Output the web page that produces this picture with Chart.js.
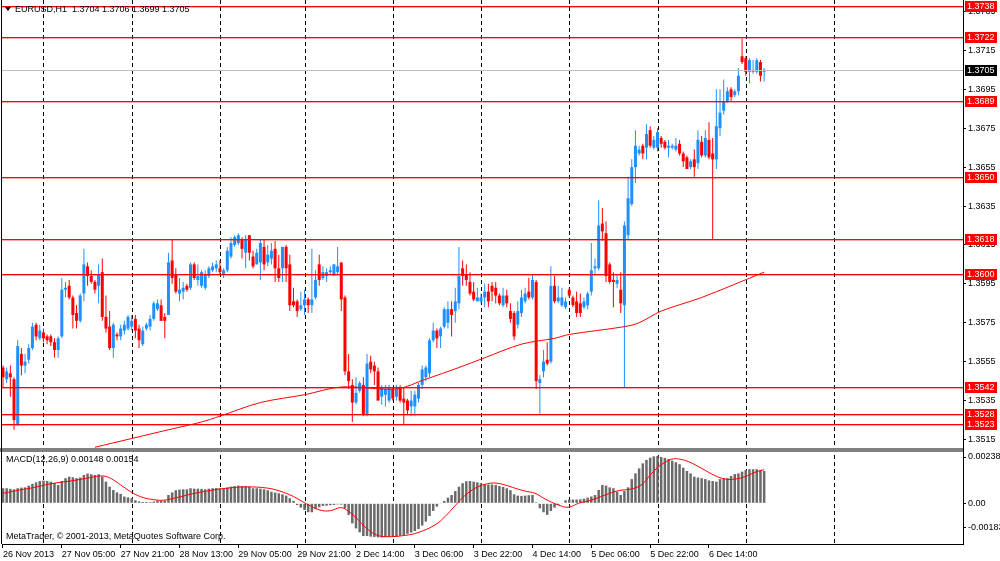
<!DOCTYPE html>
<html>
<head>
<meta charset="utf-8">
<title>EURUSD,H1</title>
<script src="https://cdn.jsdelivr.net/npm/chart.js@4.4.1/dist/chart.umd.min.js"></script>
<style>
  html, body { margin: 0; padding: 0; background: #fff; }
  #wrap { width: 1000px; height: 561px; }
</style>
</head>
<body>
<div id="wrap"><canvas id="chart" width="1000" height="561"></canvas></div>
<script>
// EURUSD H1 candles, one entry per bar (bar 0 = 26 Nov 2013 13:00)
const opens = [
  1.3552,1.3546,1.3549,1.3546,1.3523,1.3559,1.3553,1.3556,1.3562,1.3574,
  1.3567,1.3570,1.3568,1.3568,1.3565,1.3561,1.3568,1.3592,1.3594,1.3588,
  1.3580,1.3576,1.3590,1.3604,1.3599,1.3596,1.3594,1.3601,1.3578,1.3573,
  1.3562,1.3569,1.3568,1.3571,1.3572,1.3573,1.3577,1.3572,1.3564,1.3572,
  1.3573,1.3577,1.3582,1.3584,1.3578,1.3579,1.3607,1.3600,1.3590,1.3591,
  1.3594,1.3593,1.3605,1.3597,1.3594,1.3593,1.3599,1.3602,1.3603,1.3603,
  1.3600,1.3602,1.3609,1.3615,1.3616,1.3618,1.3611,1.3620,1.3609,1.3605,
  1.3606,1.3614,1.3606,1.3608,1.3613,1.3603,1.3603,1.3614,1.3605,1.3586,
  1.3586,1.3582,1.3584,1.3587,1.3584,1.3588,1.3605,1.3598,1.3599,1.3601,
  1.3600,1.3601,1.3606,1.3588,1.3550,1.3543,1.3534,1.3540,1.3543,1.3528,
  1.3555,1.3553,1.3550,1.3537,1.3538,1.3535,1.3541,1.3537,1.3542,1.3536,
  1.3535,1.3532,1.3532,1.3536,1.3543,1.3547,1.3549,1.3566,1.3571,1.3568,
  1.3573,1.3575,1.3582,1.3581,1.3585,1.3603,1.3600,1.3596,1.3591,1.3586,
  1.3586,1.3588,1.3591,1.3594,1.3593,1.3589,1.3584,1.3589,1.3581,1.3580,
  1.3574,1.3580,1.3586,1.3591,1.3588,1.3596,1.3544,1.3550,1.3556,1.3555,
  1.3594,1.3586,1.3584,1.3583,1.3592,1.3588,1.3586,1.3585,1.3583,1.3584,
  1.3591,1.3603,1.3603,1.3626,1.3621,1.3605,1.3597,1.3595,1.3592,1.3584,
  1.3620,1.3636,1.3655,1.3662,1.3666,1.3665,1.3674,1.3665,1.3665,1.3670,
  1.3668,1.3665,1.3665,1.3664,1.3667,1.3662,1.3660,1.3655,1.3659,1.3657,
  1.3668,1.3661,1.3669,1.3662,1.3659,1.3675,1.3684,1.3689,1.3695,1.3692,
  1.3694,1.3712,1.3711,1.3704,1.3704,1.3704,1.3709,1.3704
];
const highs = [
  1.3553,1.3552,1.3553,1.3547,1.3566,1.3562,1.3559,1.3564,1.3575,1.3575,
  1.3574,1.3572,1.3569,1.3569,1.3567,1.3568,1.3598,1.3596,1.3597,1.3589,
  1.3584,1.3590,1.3613,1.3606,1.3602,1.3597,1.3605,1.3608,1.3589,1.3581,
  1.3575,1.3570,1.3574,1.3576,1.3579,1.3579,1.3579,1.3574,1.3573,1.3575,
  1.3579,1.3586,1.3587,1.3587,1.3580,1.3611,1.3618,1.3603,1.3598,1.3596,
  1.3595,1.3606,1.3606,1.3605,1.3602,1.3602,1.3604,1.3606,1.3607,1.3607,
  1.3603,1.3614,1.3619,1.3620,1.3621,1.3619,1.3620,1.3620,1.3612,1.3613,
  1.3618,1.3618,1.3615,1.3616,1.3617,1.3610,1.3614,1.3615,1.3610,1.3593,
  1.3587,1.3591,1.3592,1.3588,1.3613,1.3602,1.3610,1.3604,1.3603,1.3604,
  1.3605,1.3614,1.3606,1.3589,1.3559,1.3546,1.3547,1.3545,1.3547,1.3559,
  1.3558,1.3555,1.3552,1.3543,1.3543,1.3543,1.3542,1.3543,1.3543,1.3542,
  1.3536,1.3540,1.3540,1.3544,1.3553,1.3553,1.3567,1.3575,1.3572,1.3573,
  1.3583,1.3586,1.3586,1.3593,1.3614,1.3607,1.3605,1.3601,1.3596,1.3593,
  1.3590,1.3595,1.3595,1.3596,1.3596,1.3590,1.3593,1.3592,1.3585,1.3581,
  1.3586,1.3592,1.3593,1.3598,1.3600,1.3597,1.3548,1.3561,1.3565,1.3604,
  1.3599,1.3594,1.3593,1.3588,1.3593,1.3589,1.3591,1.3590,1.3588,1.3591,
  1.3616,1.3608,1.3638,1.3634,1.3627,1.3606,1.3601,1.3600,1.3601,1.3627,
  1.3650,1.3659,1.3674,1.3666,1.3667,1.3677,1.3676,1.3671,1.3675,1.3671,
  1.3669,1.3669,1.3667,1.3670,1.3669,1.3663,1.3661,1.3659,1.3664,1.3674,
  1.3671,1.3674,1.3678,1.3670,1.3695,1.3695,1.3700,1.3696,1.3696,1.3695,
  1.3706,1.3721,1.3712,1.3711,1.3710,1.3711,1.3710,1.3706
];
const lows = [
  1.3542,1.3544,1.3537,1.3520,1.3522,1.3548,1.3549,1.3554,1.3561,1.3566,
  1.3566,1.3565,1.3564,1.3563,1.3557,1.3557,1.3567,1.3588,1.3587,1.3572,
  1.3572,1.3575,1.3586,1.3594,1.3595,1.3590,1.3585,1.3576,1.3570,1.3561,
  1.3557,1.3566,1.3566,1.3569,1.3571,1.3571,1.3567,1.3562,1.3563,1.3571,
  1.3571,1.3576,1.3581,1.3576,1.3567,1.3579,1.3595,1.3590,1.3586,1.3587,
  1.3591,1.3592,1.3597,1.3594,1.3593,1.3592,1.3598,1.3601,1.3601,1.3600,
  1.3598,1.3601,1.3608,1.3614,1.3615,1.3608,1.3603,1.3607,1.3603,1.3605,
  1.3597,1.3602,1.3604,1.3605,1.3596,1.3596,1.3596,1.3596,1.3581,1.3583,
  1.3578,1.3581,1.3579,1.3580,1.3580,1.3587,1.3594,1.3597,1.3596,1.3600,
  1.3599,1.3600,1.3581,1.3548,1.3541,1.3524,1.3533,1.3539,1.3527,1.3527,
  1.3549,1.3543,1.3535,1.3533,1.3532,1.3534,1.3535,1.3535,1.3534,1.3523,
  1.3528,1.3527,1.3527,1.3534,1.3541,1.3545,1.3547,1.3565,1.3562,1.3562,
  1.3572,1.3572,1.3568,1.3575,1.3582,1.3594,1.3594,1.3589,1.3586,1.3586,
  1.3585,1.3583,1.3583,1.3586,1.3585,1.3584,1.3583,1.3583,1.3575,1.3566,
  1.3572,1.3578,1.3585,1.3587,1.3587,1.3541,1.3528,1.3547,1.3553,1.3554,
  1.3585,1.3585,1.3583,1.3582,1.3588,1.3583,1.3578,1.3578,1.3582,1.3582,
  1.3589,1.3599,1.3602,1.3617,1.3596,1.3595,1.3583,1.3593,1.3580,1.3542,
  1.3618,1.3635,1.3647,1.3661,1.3659,1.3659,1.3665,1.3664,1.3663,1.3665,
  1.3664,1.3660,1.3664,1.3663,1.3661,1.3655,1.3654,1.3654,1.3650,1.3654,
  1.3660,1.3660,1.3659,1.3618,1.3654,1.3671,1.3682,1.3688,1.3689,1.3691,
  1.3692,1.3708,1.3702,1.3698,1.3703,1.3703,1.3699,1.3699
];
const closes = [
  1.3547,1.3550,1.3547,1.3525,1.3563,1.3553,1.3555,1.3562,1.3573,1.3568,
  1.3571,1.3567,1.3566,1.3565,1.3561,1.3567,1.3592,1.3593,1.3588,1.3579,
  1.3576,1.3589,1.3605,1.3599,1.3596,1.3592,1.3600,1.3578,1.3572,1.3562,
  1.3574,1.3568,1.3572,1.3574,1.3578,1.3576,1.3571,1.3566,1.3571,1.3574,
  1.3577,1.3585,1.3585,1.3576,1.3576,1.3606,1.3598,1.3591,1.3592,1.3593,
  1.3592,1.3605,1.3598,1.3599,1.3601,1.3600,1.3603,1.3604,1.3605,1.3601,
  1.3602,1.3612,1.3616,1.3619,1.3620,1.3613,1.3618,1.3611,1.3604,1.3611,
  1.3616,1.3605,1.3610,1.3612,1.3603,1.3598,1.3614,1.3603,1.3584,1.3584,
  1.3581,1.3584,1.3587,1.3584,1.3587,1.3597,1.3597,1.3601,1.3601,1.3602,
  1.3605,1.3604,1.3587,1.3550,1.3545,1.3534,1.3539,1.3544,1.3528,1.3554,
  1.3551,1.3550,1.3535,1.3542,1.3541,1.3542,1.3536,1.3541,1.3535,1.3534,
  1.3530,1.3535,1.3538,1.3543,1.3551,1.3552,1.3566,1.3571,1.3567,1.3572,
  1.3582,1.3582,1.3579,1.3586,1.3599,1.3599,1.3597,1.3590,1.3587,1.3588,
  1.3588,1.3591,1.3586,1.3591,1.3589,1.3585,1.3589,1.3585,1.3577,1.3568,
  1.3581,1.3588,1.3590,1.3588,1.3597,1.3545,1.3546,1.3555,1.3554,1.3594,
  1.3586,1.3588,1.3588,1.3586,1.3589,1.3584,1.3580,1.3580,1.3586,1.3590,
  1.3602,1.3604,1.3625,1.3622,1.3599,1.3596,1.3596,1.3597,1.3585,1.3625,
  1.3639,1.3655,1.3666,1.3664,1.3662,1.3672,1.3666,1.3669,1.3673,1.3667,
  1.3665,1.3666,1.3666,1.3666,1.3662,1.3658,1.3654,1.3658,1.3655,1.3669,
  1.3661,1.3670,1.3660,1.3659,1.3676,1.3683,1.3689,1.3694,1.3691,1.3694,
  1.3702,1.3709,1.3704,1.3710,1.3705,1.3710,1.3702,1.3705
];

// moving average line (red), read at a few bars
const maBars = [25,45,54,59,70,82,92,107,115,124,131,141,150,154,169,173,179,190,207];
const maValues = [1.3511,1.3520,1.3524,1.3527,1.3534,1.3538,1.3542,1.3541,1.3546,1.3552,
  1.3557,1.3564,1.3567,1.3569,1.3573,1.3575,1.3581,1.3588,1.3601];

// MACD(12,26,9) main histogram, one per bar
const macdHist = [
  0.00069,0.00069,0.00066,0.00064,0.00069,0.00072,0.00073,0.00081,0.00089,0.00096,
  0.00102,0.00104,0.00102,0.00099,0.00093,0.00084,0.00102,0.00115,0.00122,0.00119,
  0.00115,0.00118,0.00130,0.00136,0.00133,0.00130,0.00133,0.00122,0.00099,0.00076,
  0.00061,0.00050,0.00043,0.00031,0.00027,0.00023,0.00014,0.00009,0.00006,0.00006,
  0.00005,0.00008,0.00012,0.00012,0.00012,0.00038,0.00050,0.00060,0.00063,0.00064,
  0.00064,0.00069,0.00067,0.00067,0.00066,0.00064,0.00067,0.00069,0.00070,0.00069,
  0.00067,0.00072,0.00076,0.00079,0.00081,0.00079,0.00079,0.00076,0.00069,0.00069,
  0.00067,0.00064,0.00060,0.00053,0.00049,0.00046,0.00041,0.00035,0.00023,0.00011,
  -0.00008,-0.00020,-0.00031,-0.00041,-0.00041,-0.00027,-0.00018,-0.00012,-0.00011,-0.00009,
  -0.00008,-0.00005,-0.00006,-0.00023,-0.00053,-0.00092,-0.00115,-0.00133,-0.00150,-0.00150,
  -0.00153,-0.00154,-0.00156,-0.00156,-0.00154,-0.00153,-0.00153,-0.00151,-0.00148,-0.00145,
  -0.00140,-0.00134,-0.00127,-0.00118,-0.00102,-0.00084,-0.00058,-0.00035,-0.00015,-0.00003,
  0.00011,0.00026,0.00038,0.00056,0.00076,0.00092,0.00101,0.00102,0.00099,0.00096,
  0.00092,0.00087,0.00086,0.00086,0.00084,0.00079,0.00075,0.00069,0.00060,0.00041,
  0.00035,0.00034,0.00035,0.00037,0.00038,0.00005,-0.00023,-0.00041,-0.00053,-0.00035,
  -0.00020,-0.00008,-0.00003,0.00014,0.00018,0.00017,0.00017,0.00018,0.00021,0.00026,
  0.00031,0.00038,0.00061,0.00084,0.00081,0.00073,0.00069,0.00053,0.00038,0.00056,
  0.00073,0.00111,0.00137,0.00160,0.00183,0.00199,0.00209,0.00215,0.00217,0.00212,
  0.00208,0.00203,0.00195,0.00188,0.00179,0.00163,0.00148,0.00137,0.00122,0.00118,
  0.00115,0.00111,0.00105,0.00102,0.00099,0.00111,0.00115,0.00115,0.00125,0.00134,
  0.00137,0.00145,0.00153,0.00156,0.00156,0.00156,0.00153,0.00148
];
// MACD signal line, read at points along the curve
const signalBars = [0,4.6,8.3,12.8,19.1,22.8,26.4,28.2,30,32.7,35.4,38.2,40.9,43.6,47.2,50.9,55.4,60.8,66.3,71.7,
  75.3,79,82.6,86.2,89,91.7,93.5,96.2,98.9,101.6,104.4,109.3,112.9,117.5,120.2,122.9,125.6,128.4,131.1,133.8,
  136.5,139.3,142,144.7,147.4,151.1,153.8,156.5,160.1,163.8,167.4,171,173.8,176.4,179.2,181.9,183.7,186.4,190,193.6,
  196.4,199.1,201.8,204.5,207];
const signalValues = [0.00046,0.00061,0.00072,0.00089,0.00104,0.00115,0.00125,0.00122,0.00107,0.00076,
  0.00046,0.00026,0.00017,0.00014,0.00026,0.00041,0.00056,0.00069,0.00075,0.00070,
  0.00056,0.00031,-0.00003,-0.00031,-0.00034,-0.00020,-0.00031,-0.00069,-0.00115,-0.00145,
  -0.00153,-0.00147,-0.00134,-0.00099,-0.00061,-0.00012,0.00035,0.00069,0.00087,0.00093,
  0.00084,0.00069,0.00056,0.00046,0.00020,-0.00008,-0.00018,0.00000,0.00015,0.00038,
  0.00058,0.00066,0.00087,0.00137,0.00179,0.00202,0.00203,0.00191,0.00160,0.00127,
  0.00111,0.00111,0.00122,0.00142,0.00154];

// horizontal lines drawn on the chart + current bid
const levels = [1.3738,1.3722,1.3689,1.3650,1.3618,1.3600,1.3542,1.3528,1.3523];
const bid = 1.3705;

// axes
const timeBars = [0,16,32,48,64,80,96,112,128,144,160,176,192];
const timeLabels = ['26 Nov 2013','27 Nov 05:00','27 Nov 21:00','28 Nov 13:00','29 Nov 05:00','29 Nov 21:00',
  '2 Dec 14:00','3 Dec 06:00','3 Dec 22:00','4 Dec 14:00','5 Dec 06:00','5 Dec 22:00','6 Dec 14:00'];
const dayBars = [11,35,59,82,106,130,154,178,202,226];
const priceTicks = [1.3515,1.3535,1.3555,1.3575,1.3595,1.3615,1.3635,1.3655,1.3675,1.3695,1.3715,1.3735];
const macdTickPos = [0.00212, 0, -0.00113];
const macdTickLabels = ['0.00238', '0.00', '-0.00183'];

const BULL = '#1e90ff';
const BEAR = '#ff0000';
const FONT = '"Liberation Sans", Arial, sans-serif';
const font9 = {family: FONT, size: 9};

const isBull = i => closes[i] >= opens[i];

const overlay = {
  id: 'overlay',
  beforeDatasetsDraw(chart) {
    const {ctx, chartArea: a, scales} = chart;
    ctx.save();
    ctx.strokeStyle = '#000';
    ctx.lineWidth = 1;
    ctx.setLineDash([4, 3]);
    dayBars.forEach(b => {
      const px = Math.round(scales.x.getPixelForValue(b)) + 0.5;
      if (px > a.right) return;
      ctx.beginPath();
      ctx.moveTo(px, a.top);
      ctx.lineTo(px, a.bottom);
      ctx.stroke();
    });
    ctx.restore();
  },
  afterDatasetsDraw(chart) {
    const {ctx, chartArea: a, scales} = chart;
    const y = scales.y;
    ctx.save();
    ctx.lineWidth = 1;

    const hline = (p, color) => {
      ctx.strokeStyle = color;
      ctx.beginPath(); ctx.moveTo(a.left, p); ctx.lineTo(a.right, p); ctx.stroke();
    };

    // bid line
    hline(Math.round(y.getPixelForValue(bid)) + 0.5, '#c0c0c0');

    // red horizontal lines (solid row plus a soft row, like the terminal draws them)
    levels.forEach(v => {
      const p = Math.round(y.getPixelForValue(v)) + 0.5;
      hline(p + 1, 'rgba(255,0,0,0.35)');
      hline(p, '#ff0000');
    });

    // panel separator and left frame
    ctx.fillStyle = '#808080';
    ctx.fillRect(0, y.bottom - 2, a.right, 4);
    ctx.fillStyle = '#000';
    ctx.fillRect(1, 0, 1, a.bottom);

    // price tags on the right scale
    ctx.font = '9px ' + FONT;
    ctx.textBaseline = 'middle';
    ctx.textAlign = 'left';
    const tag = (v, bg) => {
      const p = Math.round(y.getPixelForValue(v));
      ctx.fillStyle = bg;
      ctx.fillRect(a.right + 2, p - 5, 32, 11);
      ctx.fillStyle = '#fff';
      ctx.fillText(v.toFixed(4), a.right + 4, p + 0.5);
    };
    levels.forEach(v => tag(v, '#ff0000'));
    tag(bid, '#000');

    // window captions
    const n = closes.length - 1;
    ctx.fillStyle = '#000';
    ctx.beginPath();
    ctx.moveTo(5, 7); ctx.lineTo(11, 7); ctx.lineTo(8, 11); ctx.closePath(); ctx.fill();
    ctx.fillText('EURUSD,H1  ' + [opens[n], highs[n], lows[n], closes[n]].map(v => v.toFixed(4)).join(' '), 15, 10);
    ctx.fillText('MACD(12,26,9) ' + macdHist[n].toFixed(5) + ' ' + signalValues[signalValues.length - 1].toFixed(5), 6, 460);
    ctx.fillText('MetaTrader, \u00a9 2001-2013, MetaQuotes Software Corp.', 6, 537);
    ctx.restore();
  }
};

new Chart(document.getElementById('chart'), {
  type: 'bar',
  data: {
    datasets: [
      {
        type: 'line',
        data: maBars.map((b, i) => ({x: b, y: maValues[i]})),
        yAxisID: 'y',
        borderColor: '#ff0000',
        borderWidth: 1,
        pointRadius: 0,
        tension: 0.3,
        order: 0
      },
      {
        data: opens.map((o, i) => ({x: i, y: [o, closes[i]]})),
        yAxisID: 'y',
        backgroundColor: c => isBull(c.dataIndex) ? BULL : BEAR,
        barThickness: 3,
        minBarLength: 1,
        grouped: false,
        inflateAmount: 0,
        order: 1
      },
      {
        data: lows.map((l, i) => ({x: i, y: [l, highs[i]]})),
        yAxisID: 'y',
        backgroundColor: c => isBull(c.dataIndex) ? BULL : BEAR,
        barThickness: 1,
        grouped: false,
        inflateAmount: 0,
        order: 2
      },
      {
        type: 'line',
        data: signalBars.map((b, i) => ({x: b, y: signalValues[i]})),
        yAxisID: 'y2',
        borderColor: '#ff0000',
        borderWidth: 1,
        pointRadius: 0,
        tension: 0.4,
        order: 0
      },
      {
        data: macdHist.map((v, i) => ({x: i, y: v})),
        yAxisID: 'y2',
        backgroundColor: '#6a6a6a',
        barThickness: 2.5,
        grouped: false,
        inflateAmount: 0,
        order: 3
      }
    ]
  },
  options: {
    responsive: false,
    animation: false,
    devicePixelRatio: 1,
    events: [],
    layout: {padding: {left: 2, right: 0, top: 0, bottom: 0}},
    plugins: {legend: {display: false}, tooltip: {enabled: false}},
    scales: {
      x: {
        type: 'linear',
        position: 'bottom',
        min: -0.27,
        max: 261.08,
        offset: false,
        afterBuildTicks: s => { s.ticks = timeBars.map(v => ({value: v})); },
        afterFit: s => { s.height = 17; s.paddingLeft = 0; s.paddingRight = 0; },
        ticks: {
          callback: (v, i) => timeLabels[i],
          align: 'start',
          maxRotation: 0,
          autoSkip: false,
          padding: 1,
          color: '#000',
          font: font9
        },
        grid: {drawOnChartArea: false, offset: false, tickLength: 4, color: '#000'},
        border: {color: '#000'}
      },
      y: {
        type: 'linear',
        position: 'right',
        stack: 'panes',
        stackWeight: 450,
        min: 1.35096,
        max: 1.37409,
        afterBuildTicks: s => { s.ticks = priceTicks.map(v => ({value: v})); },
        afterFit: s => { s.width = 37; s.paddingTop = 0; s.paddingBottom = 0; },
        ticks: {callback: v => v.toFixed(4), padding: 2, color: '#000', font: font9},
        grid: {drawOnChartArea: false, tickLength: 3, color: '#000'},
        border: {color: '#000'}
      },
      y2: {
        type: 'linear',
        position: 'right',
        stack: 'panes',
        stackWeight: 94,
        min: -0.001864,
        max: 0.002441,
        afterBuildTicks: s => { s.ticks = macdTickPos.map(v => ({value: v})); },
        afterFit: s => { s.width = 37; s.paddingTop = 0; s.paddingBottom = 0; },
        ticks: {callback: (v, i) => macdTickLabels[i], padding: 2, color: '#000', font: font9},
        grid: {drawOnChartArea: false, tickLength: 3, color: '#000'},
        border: {color: '#000'}
      }
    }
  },
  plugins: [overlay]
});
</script>
</body>
</html>
